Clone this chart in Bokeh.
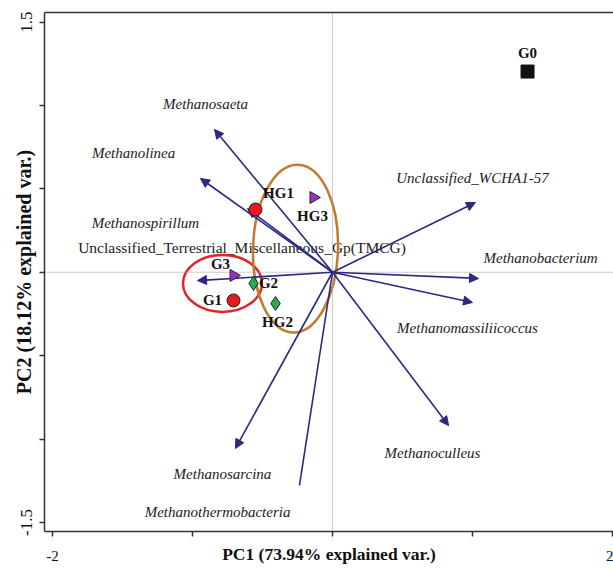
from bokeh.plotting import figure
from bokeh.models import (ColumnDataSource, Arrow, NormalHead, Span, LinearAxis,
                          FixedTicker, Range1d)
from bokeh.core.properties import value
from bokeh.embed import file_html
from bokeh.resources import INLINE
import math

# ---------------- data ----------------
samples = ["G0", "HG1", "HG3", "G3", "G2", "G1", "HG2"]
sample_pc1 = [1.393, -0.550, -0.136, -0.707, -0.564, -0.707, -0.407]
sample_pc2 = [1.203, 0.376, 0.448, -0.019, -0.067, -0.169, -0.187]

taxa = ["Methanosaeta", "Methanolinea", "Methanospirillum",
        "Unclassified_Terrestrial_Miscellaneous_Gp(TMCG)",
        "Unclassified_WCHA1-57", "Methanobacterium", "Methanomassiliicoccus",
        "Methanoculleus", "Methanosarcina", "Methanothermobacteria"]
loading_pc1 = [-0.843, -0.943, -0.607, -0.964, 1.021, 1.043, 1.000, 0.829, -0.693, -0.236]
loading_pc2 = [0.856, 0.562, 0.382, -0.050, 0.418, -0.037, -0.181, -0.919, -1.056, -1.278]
taxa_label_pc1 = [-0.907, -1.421, -1.336, -0.646, 1.000, 1.486, 0.964, 0.714, -0.786, -0.821]
taxa_label_pc2 = [1.006, 0.712, 0.298, 0.148, 0.562, 0.088, -0.337, -1.081, -1.207, -1.440]

groups = ["G1-G3", "HG1-HG3"]
group_pc1 = [-0.786, -0.264]
group_pc2 = [-0.067, 0.142]
group_w = [0.564, 0.607]
group_h = [0.342, 1.007]

x_ticks = [-2, -1, 0, 1, 2]
x_tick_labels = ["-2", "", "", "", "2"]
y_ticks = [-1.5, -1.0, -0.5, 0.0, 0.5, 1.0, 1.5]
y_tick_labels = ["-1.5", "", "", "", "", "", "1.5"]

# ---------------- styles ----------------
navy = "#2b2a80"
serif = "Liberation Serif"
marker_style = {
    "G0": ("square", "#111111", 13),
    "HG1": ("circle", "#e8191f", 13),
    "G1": ("circle", "#e8191f", 13),
    "HG3": ("triangle", "#9b30c8", 12),
    "G3": ("triangle", "#9b30c8", 12),
    "G2": ("diamond", "#22b14c", 14),
    "HG2": ("diamond", "#22b14c", 14),
}
label_offset = {"G0": (0, -19), "HG1": (23, -17), "HG3": (-1, 18), "G3": (-13, -11),
                "G2": (15, 0), "G1": (-21, 0), "HG2": (2, 19)}
has_head = [True, True, True, True, True, True, True, True, True, False]
group_colors = ["#e0262b", "#c47a2c"]
group_angle = [0.0, -0.03]

p = figure(width=613, height=569,
           x_range=Range1d(-2.057, 2.007), y_range=Range1d(-1.554, 1.557),
           output_backend="svg", toolbar_location=None,
           min_border_left=44, min_border_right=0, min_border_top=12, min_border_bottom=38)
p.outline_line_color = None
p.grid.visible = False
p.background_fill_color = "white"

# axes
xa = p.xaxis[0]
xa.ticker = FixedTicker(ticks=x_ticks)
xa.major_label_overrides = {t: l for t, l in zip(x_ticks, x_tick_labels)}
xa.axis_label = "PC1 (73.94% explained var.)"
ya = p.yaxis[0]
ya.ticker = FixedTicker(ticks=y_ticks)
ya.major_label_overrides = {t: l for t, l in zip(y_ticks, y_tick_labels)}
ya.axis_label = "PC2 (18.12% explained var.)"
ya.major_label_orientation = "vertical"
for ax, fs, afs, ls, st in ((xa, "15px", "17.5px", 14, -20), (ya, "17px", "20px", 7, -16)):
    ax.minor_tick_line_color = None
    ax.major_tick_in = 0
    ax.major_tick_out = 5
    ax.major_tick_line_color = "#333333"
    ax.major_tick_line_width = 1.5
    ax.axis_line_color = "#333333"
    ax.axis_line_width = 1.5
    ax.major_label_text_font = serif
    ax.major_label_text_font_size = fs
    ax.major_label_text_color = "#111111"
    ax.major_label_standoff = ls
    ax.axis_label_text_font = serif
    ax.axis_label_text_font_style = "bold"
    ax.axis_label_text_font_size = afs
    ax.axis_label_text_color = "#111111"
    ax.axis_label_standoff = st

top_axis = LinearAxis(ticker=FixedTicker(ticks=[]), major_tick_out=0, major_tick_in=0,
                      major_label_standoff=0, minor_tick_line_color=None,
                      major_tick_line_color=None, axis_line_color="#333333",
                      axis_line_width=1.5, major_label_text_font_size="0px")
p.add_layout(top_axis, "above")

# zero lines
for dim in ("width", "height"):
    p.add_layout(Span(location=0, dimension=dim, line_color="#9a9a9a",
                      line_dash="1 1", line_width=1, level="underlay"))

# taxa labels
is_plain = [t.startswith("Unclassified_Terrestrial") for t in taxa]
tsrc = ColumnDataSource(dict(x=taxa_label_pc1, y=taxa_label_pc2, t=taxa,
                             st=["normal" if f else "italic" for f in is_plain],
                             fs=["15.5px" if f else "15px" for f in is_plain]))
tr = p.text(x="x", y="y", text="t", source=tsrc, text_font=value(serif),
            text_font_style="st", text_font_size="fs", text_color="#222222",
            text_align="center", text_baseline="middle")
tr.level = "underlay"

# ellipses
er = p.ellipse(x=group_pc1, y=group_pc2, width=group_w, height=group_h, angle=group_angle,
               fill_color=None, line_color=group_colors, line_width=2.5)
er.level = "underlay"

# loading arrows
for head in (True, False):
    idx = [i for i, h in enumerate(has_head) if h == head]
    src = ColumnDataSource(dict(x0=[0.0] * len(idx), y0=[0.0] * len(idx),
                                x1=[loading_pc1[i] for i in idx],
                                y1=[loading_pc2[i] for i in idx]))
    p.add_layout(Arrow(end=NormalHead(size=9, fill_color=navy, line_color=navy) if head else None,
                       x_start="x0", y_start="y0", x_end="x1", y_end="y1", source=src,
                       line_color=navy, line_width=1.6, level="underlay"))

# sample markers
for s, x, y in zip(samples, sample_pc1, sample_pc2):
    mk, col, sz = marker_style[s]
    ang = -math.pi / 2 if mk == "triangle" else 0
    p.scatter(x=[x], y=[y], marker=mk, size=sz, angle=ang, fill_color=col,
              line_color="#222222" if mk != "square" else col, line_width=1)

# sample labels
lsrc = ColumnDataSource(dict(x=sample_pc1, y=sample_pc2, t=samples,
                             dx=[label_offset[s][0] for s in samples],
                             dy=[label_offset[s][1] for s in samples]))
p.text(x="x", y="y", text="t", source=lsrc, x_offset="dx", y_offset="dy",
       text_font=value(serif), text_font_style="bold", text_font_size="15px",
       text_color="#111111", text_align="center", text_baseline="middle")

open("out.html", "w").write(file_html(p, INLINE))
